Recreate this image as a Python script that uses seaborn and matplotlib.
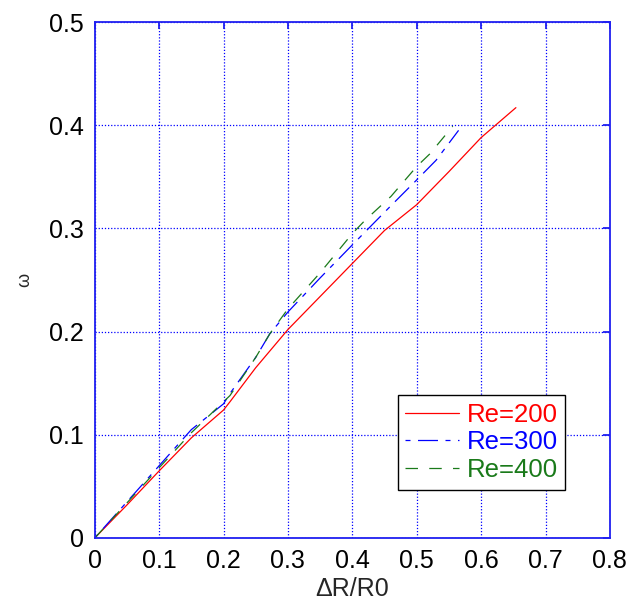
import matplotlib
matplotlib.use("Agg")
import matplotlib.pyplot as plt
import seaborn as sns
import pandas as pd

# Data
x_re200 = [0, 0.05, 0.1, 0.15, 0.2, 0.21, 0.25, 0.3, 0.35, 0.4, 0.45, 0.5, 0.55, 0.6, 0.654]
y_re200 = [0, 0.032, 0.065, 0.097, 0.124, 0.132, 0.165, 0.202, 0.234, 0.266, 0.298, 0.323, 0.355, 0.388, 0.417]

x_re300 = [0, 0.05, 0.1, 0.15, 0.2, 0.21, 0.25, 0.272, 0.3, 0.35, 0.4, 0.43, 0.46, 0.5, 0.53, 0.565]
y_re300 = [0, 0.035, 0.07, 0.105, 0.13, 0.14, 0.175, 0.198, 0.219, 0.252, 0.284, 0.303, 0.322, 0.347, 0.366, 0.395]

x_re400 = [0, 0.05, 0.1, 0.15, 0.2, 0.21, 0.25, 0.272, 0.3, 0.35, 0.4, 0.42, 0.46, 0.5, 0.52, 0.556]
y_re400 = [0, 0.034, 0.068, 0.102, 0.132, 0.138, 0.175, 0.198, 0.222, 0.257, 0.295, 0.308, 0.331, 0.36, 0.372, 0.399]

labels = ["Re=200", "Re=300", "Re=400"]
colors = ["#ff0000", "#0000ff", "#1a7a1a"]
styles = ["-", (0, (4, 6, 16, 6)), (0, (10, 9))]
xticks = [0, 0.1, 0.2, 0.3, 0.4, 0.5, 0.6, 0.7, 0.8]
xticklabels = ["0", "0.1", "0.2", "0.3", "0.4", "0.5", "0.6", "0.7", "0.8"]
yticks = [0, 0.1, 0.2, 0.3, 0.4, 0.5]
yticklabels = ["0", "0.1", "0.2", "0.3", "0.4", "0.5"]

sns.set_style("white")
plt.rcParams["font.family"] = ["Liberation Sans", "DejaVu Sans"]

fig = plt.figure(figsize=(6.4, 6.03), dpi=100)
ax = fig.add_axes([0.148, 0.1078, 0.805, 0.8557])

series = [(x_re200, y_re200), (x_re300, y_re300), (x_re400, y_re400)]
for (xs, ys), lab, c, ls in zip(series, labels, colors, styles):
    df = pd.DataFrame({"x": xs, "y": ys})
    sns.lineplot(data=df, x="x", y="y", ax=ax, color=c, linestyle=ls,
                 linewidth=0.9, sort=False, estimator=None, label=lab)

ax.set_xlim(0, 0.8)
ax.set_ylim(0, 0.5)
ax.set_xticks(xticks)
ax.set_xticklabels(xticklabels)
ax.set_yticks(yticks)
ax.set_yticklabels(yticklabels)
ax.grid(True, color="#0000ff", linestyle=(0, (1, 1.5)), linewidth=0.9)
for s in ax.spines.values():
    s.set_color("#2020f0")
    s.set_linewidth(1.3)
    s.set_visible(True)
ax.tick_params(axis="both", direction="in", length=5, width=1.3, color="#2020f0",
               labelsize=18, labelcolor="black", top=True, right=True, pad=8)
ax.set_xlabel("ΔR/R0", fontsize=18, labelpad=3)
ax.set_ylabel("ω", fontsize=13, rotation=90, labelpad=11)

leg = ax.legend(loc="lower left", bbox_to_anchor=(0.588, 0.093, 0.325, 0.2035),
                mode="expand", fontsize=18.5, frameon=True, fancybox=False,
                handlelength=2.1, borderaxespad=0, labelspacing=0.15,
                borderpad=0.3, handletextpad=0.3)
leg.get_frame().set_edgecolor("black")
leg.get_frame().set_linewidth(1.0)
leg.get_frame().set_alpha(1)
for t, c in zip(leg.get_texts(), colors):
    t.set_color(c)

fig.savefig("out.png", dpi=100)
